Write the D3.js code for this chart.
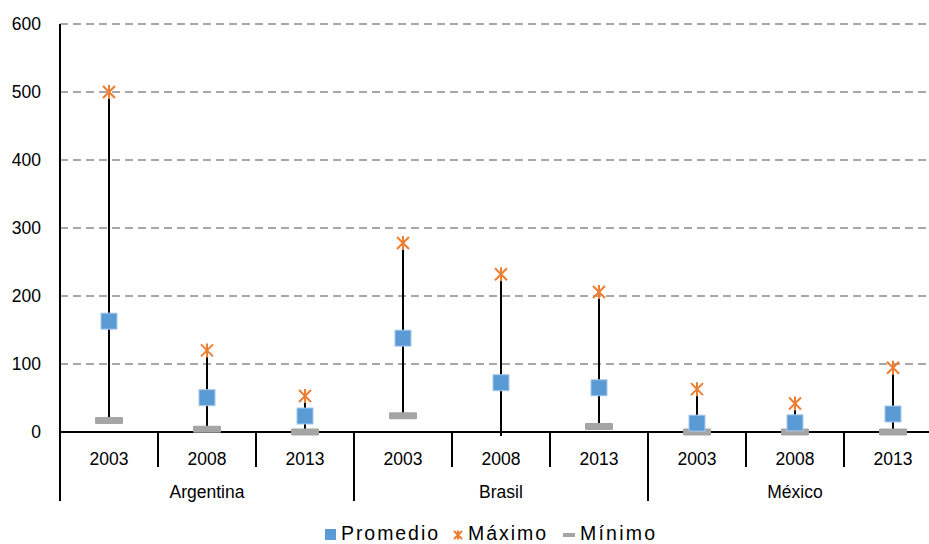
<!DOCTYPE html>
<html><head><meta charset="utf-8">
<script src="https://cdn.jsdelivr.net/npm/d3@7"></script>
<style>body{margin:0;background:#fff}svg{display:block;font-family:"Liberation Sans",Arial,sans-serif}</style>
</head><body><svg id="c" width="929" height="544"></svg>
<script>
const groups = ["Argentina","Brasil","México"];
const years = ["2003","2008","2013"];
const promedio = [163, 50.5, 23.5, 138, 72.5, 65, 13, 13.5, 26.5];
const maximo   = [500, 120, 53, 278, 232, 206, 63, 42, 94.5];
const minimo   = [17, 4, 0, 24, null, 8, 0, 0, 0];
const yTicks = [0,100,200,300,400,500,600];

(function(){
const cats = [];
groups.forEach(g => years.forEach(y => cats.push(g + "|" + y)));
const data = cats.map((k,i) => ({key:k, group:k.split("|")[0], year:k.split("|")[1], avg:promedio[i], max:maximo[i], min:minimo[i]}));

const svg = d3.select("#c");
const mLeft = 60, mRight = 942, mTop = 24, zeroY = 432;
const x = d3.scaleBand().domain(cats).range([mLeft, mRight]).padding(0);
const y = d3.scaleLinear().domain([0,600]).range([zeroY, mTop]);
const bw = x.bandwidth();

// gridlines
svg.append("g").selectAll("line").data(yTicks.filter(d=>d>0)).join("line")
  .attr("x1", mLeft).attr("x2", mRight).attr("y1", d=>y(d)).attr("y2", d=>y(d))
  .attr("stroke", "#8c8c8c").attr("stroke-width", 1.6).attr("stroke-dasharray", "8,5");

// y axis labels
svg.append("g").selectAll("text").data(yTicks).join("text")
  .attr("x", 41).attr("y", d=>y(d)).attr("dy", "0.36em").attr("text-anchor","end")
  .attr("font-size", 17.5).attr("fill","#000").text(d=>d);

// axes lines
svg.append("line").attr("x1", mLeft).attr("x2", mLeft).attr("y1", mTop).attr("y2", 501).attr("stroke","#000").attr("stroke-width",2);
svg.append("line").attr("x1", mLeft).attr("x2", mRight).attr("y1", y(0)).attr("y2", y(0)).attr("stroke","#000").attr("stroke-width",2);

// category ticks
svg.append("g").selectAll("line").data(cats.slice(1)).join("line")
  .attr("x1", d=>x(d)).attr("x2", d=>x(d)).attr("y1", y(0)).attr("y2", d=> d.endsWith(years[0]) ? 501 : 467)
  .attr("stroke","#000").attr("stroke-width",2);
svg.append("line").attr("x1", mRight).attr("x2", mRight).attr("y1", y(0)).attr("y2", 501).attr("stroke","#000").attr("stroke-width",2);

// category labels
svg.append("g").selectAll("text").data(data).join("text")
  .attr("x", d=>x(d.key)+bw/2).attr("y", 465).attr("text-anchor","middle")
  .attr("font-size", 17.5).attr("fill","#000").text(d=>d.year);
// group labels
svg.append("g").selectAll("text").data(groups).join("text")
  .attr("x", g=>x(g+"|"+years[0]) + bw*1.5).attr("y", 498).attr("text-anchor","middle")
  .attr("font-size", 17.5).attr("fill","#000").text(g=>g);

// high-low lines
svg.append("g").selectAll("line").data(data).join("line")
  .attr("x1", d=>x(d.key)+bw/2).attr("x2", d=>x(d.key)+bw/2)
  .attr("y1", d=>y(d.max)).attr("y2", d=>y(d.min == null ? 0 : d.min) + (d.min==null?4:0))
  .attr("stroke","#000").attr("stroke-width",2);

// min markers
svg.append("g").selectAll("rect").data(data.filter(d=>d.min!=null)).join("rect")
  .attr("x", d=>x(d.key)+bw/2-14).attr("y", d=>y(d.min)-3.5).attr("width",28).attr("height",7)
  .attr("fill","#a5a5a5").attr("rx",1);

// avg markers
svg.append("g").selectAll("rect").data(data).join("rect")
  .attr("x", d=>x(d.key)+bw/2-8).attr("y", d=>y(d.avg)-8).attr("width",16).attr("height",16)
  .attr("fill","#5b9bd5").attr("stroke","#a9c8ea").attr("stroke-width",1);

// max markers (star)
const star = "M-6,-6L6,6M-6,6L6,-6M0,-7L0,7";
svg.append("g").selectAll("path").data(data).join("path")
  .attr("transform", d=>`translate(${x(d.key)+bw/2},${y(d.max)})`)
  .attr("d", star).attr("stroke","#ed7d31").attr("stroke-width",2).attr("fill","none");

// legend
const lg = svg.append("g");
lg.append("rect").attr("x",325).attr("y",529).attr("width",11).attr("height",11).attr("fill","#5b9bd5");
lg.append("text").attr("x",341).attr("y",539.5).attr("font-size",19.5).attr("textLength",97).attr("lengthAdjust","spacing").text("Promedio");
lg.append("path").attr("transform","translate(458,535)").attr("d","M-4,-4L4,4M-4,4L4,-4M0,-4.5L0,4.5").attr("stroke","#ed7d31").attr("stroke-width",2);
lg.append("text").attr("x",468).attr("y",539.5).attr("font-size",19.5).attr("textLength",78).attr("lengthAdjust","spacing").text("Máximo");
lg.append("rect").attr("x",563).attr("y",533).attr("width",12).attr("height",4).attr("fill","#a5a5a5");
lg.append("text").attr("x",580).attr("y",539.5).attr("font-size",19.5).attr("textLength",75).attr("lengthAdjust","spacing").text("Mínimo");
})();
</script></body></html>
